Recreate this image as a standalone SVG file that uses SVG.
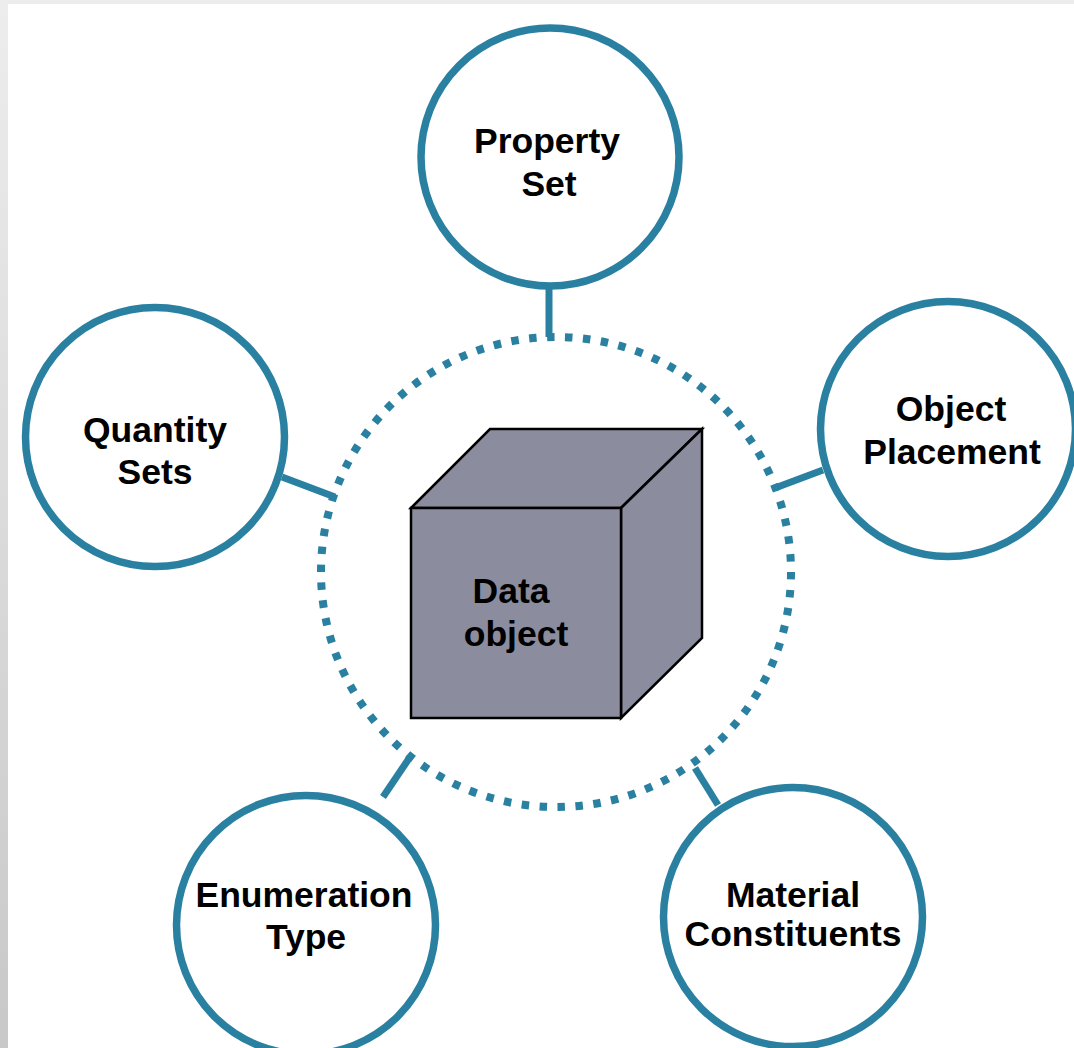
<svg xmlns="http://www.w3.org/2000/svg" width="1074" height="1048" viewBox="0 0 1074 1048">
<defs>
<linearGradient id="lg" x1="0" y1="0" x2="0" y2="1">
<stop offset="0" stop-color="#ededed"/>
<stop offset="1" stop-color="#c8c8c8"/>
</linearGradient>
<style>
.ring{fill:#ffffff;stroke:#2a80a1;stroke-width:7.5}
.conn{stroke:#2a80a1;stroke-width:7;fill:none}
.lbl{font-family:"Liberation Sans",Arial,sans-serif;font-weight:bold;font-size:35.5px;fill:#000;text-anchor:middle}
.cube{fill:#8b8c9e;stroke:#000;stroke-width:2.5;stroke-linejoin:miter}
</style>
</defs>
<rect x="0" y="0" width="1074" height="1048" fill="#ffffff"/>
<rect x="0" y="0" width="1074" height="4" fill="#ececec"/>
<rect x="0" y="0" width="8" height="1048" fill="url(#lg)"/>

<g id="connectors">
<circle cx="556" cy="572" r="235" fill="none" stroke="#2a80a1" stroke-width="8" stroke-dasharray="7.5 10.5"/>
<line class="conn" x1="549" y1="285" x2="549" y2="337"/>
<line class="conn" x1="282" y1="477" x2="335" y2="497"/>
<line class="conn" x1="823" y1="470" x2="775" y2="488"/>
<line class="conn" x1="383" y1="797" x2="410" y2="757"/>
<line class="conn" x1="718" y1="805" x2="695" y2="768"/>
</g>

<g id="data-object">
<polygon class="cube" points="411,508 490,429 702,429 621,508"/>
<polygon class="cube" points="621,508 702,429 702,638 621,718"/>
<rect class="cube" x="411" y="508" width="210" height="210"/>
<text class="lbl" x="511" y="603">Data</text>
<text class="lbl" x="516" y="646">object</text>
</g>

<g id="property-set">
<circle class="ring" cx="550" cy="157" r="129"/>
<text class="lbl" x="547" y="153">Property</text>
<text class="lbl" x="549" y="196">Set</text>
</g>

<g id="quantity-sets">
<circle class="ring" cx="155" cy="437" r="129.5"/>
<text class="lbl" x="155" y="442">Quantity</text>
<text class="lbl" x="155" y="484">Sets</text>
</g>

<g id="object-placement">
<circle class="ring" cx="948" cy="429" r="127.5"/>
<text class="lbl" x="951" y="421">Object</text>
<text class="lbl" x="952" y="464">Placement</text>
</g>

<g id="enumeration-type">
<circle class="ring" cx="306" cy="925" r="129.5"/>
<text class="lbl" x="304" y="907">Enumeration</text>
<text class="lbl" x="306" y="949">Type</text>
</g>

<g id="material-constituents">
<circle class="ring" cx="793" cy="917" r="129.5"/>
<text class="lbl" x="793" y="907">Material</text>
<text class="lbl" x="793" y="946">Constituents</text>
</g>
</svg>
